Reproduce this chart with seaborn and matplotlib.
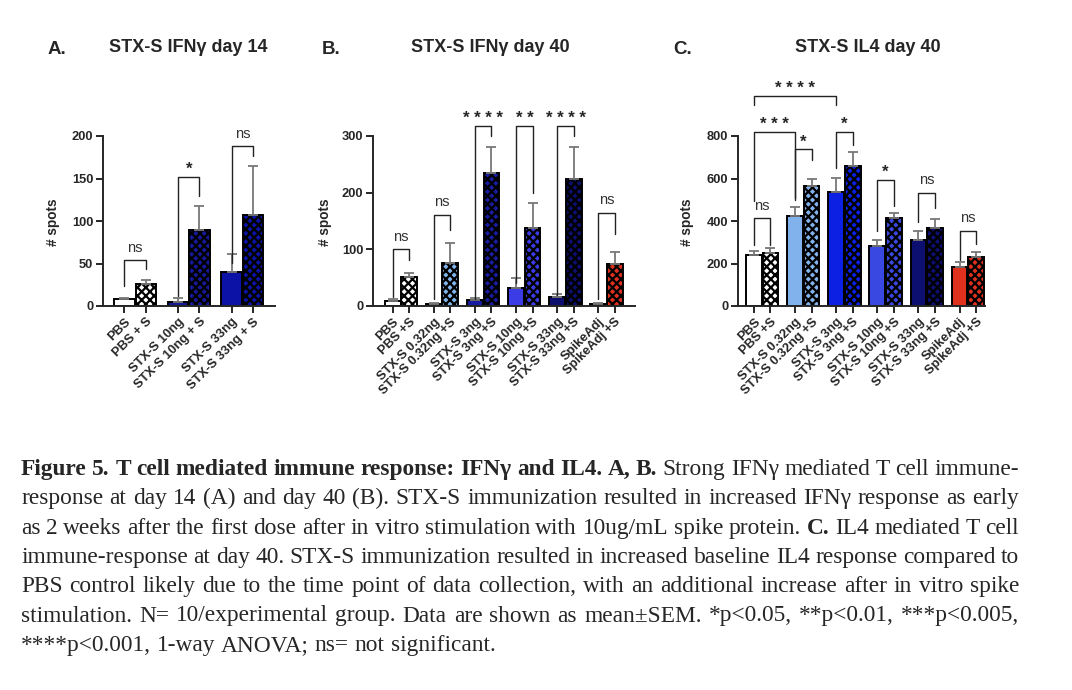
import numpy as np
import pandas as pd
import seaborn as sns
import matplotlib
matplotlib.use('Agg')
import matplotlib.pyplot as plt

sns.set_style('ticks')
plt.rcParams['font.family'] = ['Liberation Sans', 'DejaVu Sans']
plt.rcParams['hatch.linewidth'] = 1.6

# ---- data ----
a_groups = ['PBS', 'STX-S 10ng', 'STX-S 33ng']
a_labels = ['PBS', 'PBS + S', 'STX-S 10ng', 'STX-S 10ng + S', 'STX-S 33ng', 'STX-S 33ng + S']
a_mean = [8, 26, 5, 89, 40, 107]
a_sem = [2, 5, 4, 29, 21, 58]
a_colors = ['white', '#16189a', '#0c12a6']
# (bar i, bar j, bracket top, left leg end, right leg end, label)
a_brackets = [(0, 1, 54, 23, 43, 'ns'), (2, 3, 152, 12, 130, '*'), (4, 5, 188, 51, 176, 'ns')]

bc_groups = ['PBS', 'STX-S 0.32ng', 'STX-S 3ng', 'STX-S 10ng', 'STX-S 33ng', 'SpikeAdj']
bc_labels = ['PBS', 'PBS +S', 'STX-S 0.32ng', 'STX-S 0.32ng +S', 'STX-S 3ng', 'STX-S 3ng +S',
             'STX-S 10ng', 'STX-S 10ng +S', 'STX-S 33ng', 'STX-S 33ng +S', 'SpikeAdj', 'SpikeAdj +S']

b_mean = [8, 51, 4, 76, 10, 235, 31, 138, 16, 225, 4, 74]
b_sem = [4, 8, 2, 36, 4, 45, 18, 43, 6, 55, 2, 22]
b_colors = ['white', '#82b4ec', '#181c9e', '#3c3ce6', '#0c0f6e', '#e0301e']
b_brackets = [(0, 1, 100, 16, 81, 'ns'), (2, 3, 161, 12, 134, 'ns'), (4, 5, 318, 12, 300, '****'),
              (6, 7, 318, 40, 200, '**'), (8, 9, 318, 19, 300, '****'), (10, 11, 165, 12, 127, 'ns')]

c_mean = [239, 250, 424, 567, 535, 661, 282, 414, 310, 365, 184, 230]
c_sem = [22, 24, 44, 33, 68, 66, 28, 22, 44, 43, 22, 25]
c_colors = ['white', '#82b2ec', '#0c20e4', '#3a48e2', '#0c0f70', '#e0301e']
c_brackets = [(0, 1, 413, 287, 287, 'ns'), (0, 4, 988, 946, 946, '****'), (0, 2, 820, 496, 500, '***'),
              (2, 3, 737, 510, 688, '*'), (4, 5, 820, 648, 760, '*'), (6, 7, 592, 355, 470, '*'),
              (8, 9, 534, 397, 460, 'ns'), (10, 11, 354, 216, 294, 'ns')]

caption = [
    [('Figure 5. T cell mediated immune response: IFN\u03b3 and IL4. A, B.', True),
     ('Strong IFN\u03b3 mediated T cell immune-', False)],
    [('response at day 14 (A) and day 40 (B). STX-S immunization resulted in increased IFN\u03b3 response as early', False)],
    [('as 2 weeks after the first dose after in vitro stimulation with 10ug/mL spike protein.', False),
     ('C.', True), ('IL4 mediated T cell', False)],
    [('immune-response at day 40. STX-S immunization resulted in increased baseline IL4 response compared to', False)],
    [('PBS control likely due to the time point of data collection, with an additional increase after in vitro spike', False)],
    [('stimulation. N= 10/experimental group. Data are shown as mean\u00b1SEM. *p<0.05, **p<0.01, ***p<0.005,', False)],
    [('****p<0.001, 1-way ANOVA; ns= not significant.', False)],
]

W, H = 1072, 690
fig = plt.figure(figsize=(W / 100, H / 100), dpi=100)


def panel(rect, groups, labels, mean, sem, colors, yticks, brackets, xlim):
    ax = fig.add_axes(rect)
    df = pd.DataFrame({'group': np.repeat(groups, 2),
                       'stim': ['-', '+S'] * len(groups),
                       'spots': mean})
    sns.barplot(data=df, x='group', y='spots', hue='stim', order=groups, hue_order=['-', '+S'],
                palette=['white', 'white'], width=0.8, gap=0.04, errorbar=None, legend=False,
                edgecolor='black', linewidth=1.4, ax=ax)
    bars = sorted(ax.patches, key=lambda p: p.get_x())
    xs = [b.get_x() + b.get_width() / 2 for b in bars]
    for i, b in enumerate(bars):
        b.set_facecolor(colors[i // 2])
        if i % 2:
            b.set_hatch('xxxx')
    # SEM, upper side only
    ax.errorbar(xs, mean, yerr=[np.zeros(len(mean)), sem], fmt='none', ecolor='#777777',
                elinewidth=1.3, capsize=3.5, capthick=1.3)

    for i, j, top, yl, yr, txt in brackets:
        ax.plot([xs[i], xs[i], xs[j], xs[j]], [yl, top, top, yr], color='#222222', lw=1.0,
                clip_on=False)
        if '*' in txt:
            ax.annotate(' '.join(txt), xy=((xs[i] + xs[j]) / 2, top), xytext=(0, 0),
                        textcoords='offset points', ha='center', va='bottom', fontsize=12,
                        fontweight='bold', annotation_clip=False)
        else:
            ax.annotate(txt, xy=((xs[i] + xs[j]) / 2, top), xytext=(0, 4),
                        textcoords='offset points', ha='center', va='bottom', fontsize=10.5,
                        color='#333333', annotation_clip=False)

    ax.set_xlim(*xlim)
    ax.set_ylim(0, yticks[-1])
    ax.set_yticks(yticks)
    ax.set_xticks(xs)
    ax.set_xticklabels(labels, rotation=45, ha='right', rotation_mode='anchor',
                       fontsize=9.3, fontweight='bold')
    for t in ax.get_yticklabels():
        t.set_fontweight('bold')
        t.set_fontsize(9.3)
    ax.set_xlabel('')
    ax.set_ylabel('# spots', fontsize=9.8, fontweight='bold')
    sns.despine(ax=ax)
    for s in ['left', 'bottom']:
        ax.spines[s].set_linewidth(1.4)
    ax.tick_params(width=1.4, length=5, pad=2)
    return ax


axa = panel([103 / W, 1 - 306 / H, 172 / W, 170 / H], a_groups, a_labels, a_mean, a_sem,
            a_colors, [0, 50, 100, 150, 200], a_brackets, (-0.6, 2.61))
axb = panel([373 / W, 1 - 306 / H, 262 / W, 170 / H], bc_groups, bc_labels, b_mean, b_sem,
            b_colors, [0, 100, 200, 300], b_brackets, (-0.68, 5.69))
axc = panel([738 / W, 1 - 306 / H, 247 / W, 170 / H], bc_groups, bc_labels, c_mean, c_sem,
            c_colors, [0, 200, 400, 600, 800], c_brackets, (-0.59, 5.42))
for ax, xl in [(axa, 60), (axb, 332), (axc, 694)]:
    ax.yaxis.set_label_coords(xl / W, 1 - 222 / H, transform=fig.transFigure)

# panel titles
for letter, lx, title, tx in [('A.', 48, 'STX-S IFN\u03b3 day 14', 188),
                              ('B.', 322, 'STX-S IFN\u03b3 day 40', 490),
                              ('C.', 673, 'STX-S IL4 day 40', 868)]:
    fig.text(lx / W, 1 - 50 / H, letter, fontsize=13.5, fontweight='bold', va='center')
    fig.text(tx / W, 1 - 48 / H, title, fontsize=13, fontweight='bold', va='center', ha='center')

# justified caption
fig.canvas.draw()
renderer = fig.canvas.get_renderer()
serif = ['Liberation Serif', 'DejaVu Serif']
fs = 16.8
left, right = 21, 1019
for n, line in enumerate(caption):
    base = 475 + n * 29.3
    words = [(w, b) for txt, b in line for w in txt.split()]
    objs = [fig.text(0, 1 - base / H, w, fontsize=fs, family=serif,
                     fontweight='bold' if b else 'normal', va='baseline') for w, b in words]
    widths = [o.get_window_extent(renderer).width for o in objs]
    if n == len(caption) - 1:
        gap = fs * 100 / 72 * 0.25
    else:
        gap = (right - left - sum(widths)) / (len(words) - 1)
    x = left
    for o, w in zip(objs, widths):
        o.set_x(x / W)
        x += w + gap

fig.savefig('out.png', dpi=100)
